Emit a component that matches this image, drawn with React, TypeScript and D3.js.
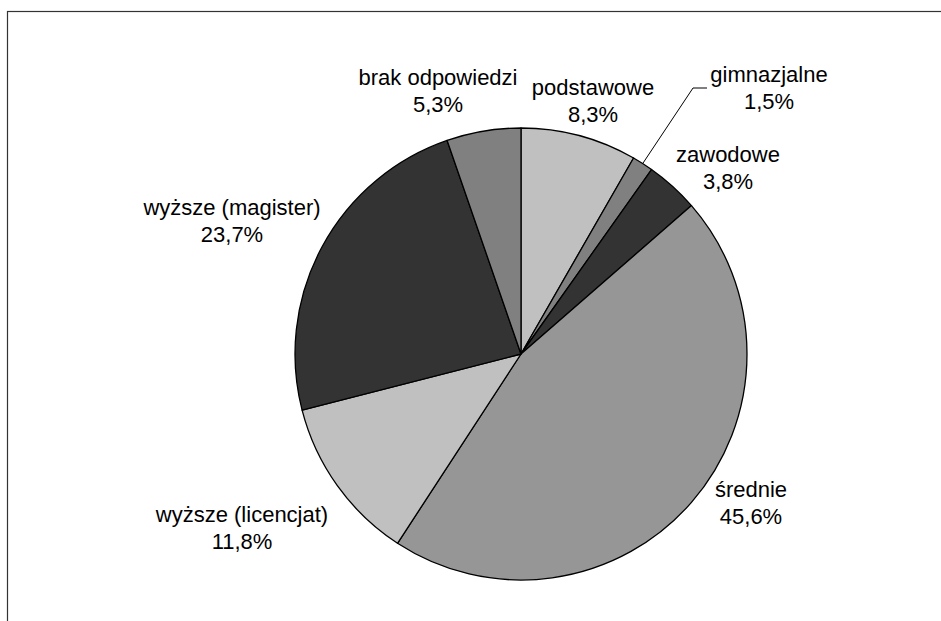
import React, { useEffect, useRef } from 'react';
import * as d3 from 'd3';

const categories = ['podstawowe', 'gimnazjalne', 'zawodowe', 'średnie', 'wyższe (licencjat)', 'wyższe (magister)', 'brak odpowiedzi'];
const values = [8.3, 1.5, 3.8, 45.6, 11.8, 23.7, 5.3];
const valueLabels = ['8,3%', '1,5%', '3,8%', '45,6%', '11,8%', '23,7%', '5,3%'];
const fills = ['#c0c0c0', '#808080', '#333333', '#969696', '#c0c0c0', '#333333', '#808080'];

// label centre x and first-line baseline, placed by hand like in the original
const labelPos: [number, number][] = [
  [593, 95], [769, 82], [728, 162], [751, 497], [242, 522], [232, 215], [438, 85],
];

const App = () => {
  const ref = useRef<SVGSVGElement>(null);
  const width = 941;
  const height = 621;

  useEffect(() => {
    const svg = d3.select(ref.current);
    svg.selectAll('*').remove();

    const cx = 521;
    const cy = 354;
    const r = 226;

    // outer frame (runs off the right and bottom edge)
    svg.append('rect')
      .attr('x', 7.5).attr('y', 11.5)
      .attr('width', 1000).attr('height', 1000)
      .attr('fill', 'none')
      .attr('stroke', '#333')
      .attr('stroke-width', 1.2);

    const data = categories.map((c, i) => ({ name: c, value: values[i], label: valueLabels[i], fill: fills[i] }));

    const pie = d3.pie<any>().value(d => d.value).sort(null);
    const arc = d3.arc<any>().innerRadius(0).outerRadius(r);
    const arcs = pie(data);

    const g = svg.append('g').attr('transform', `translate(${cx}, ${cy})`);

    g.selectAll('.slice')
      .data(arcs)
      .enter().append('path')
      .attr('class', 'slice')
      .attr('d', arc)
      .style('fill', d => d.data.fill)
      .style('stroke', '#000')
      .style('stroke-width', 1.3)
      .style('stroke-linejoin', 'round');

    // leader line for the small slice (gimnazjalne)
    const gim = arcs[1];
    const mid = (gim.startAngle + gim.endAngle) / 2;
    const px = cx + r * Math.sin(mid);
    const py = cy - r * Math.cos(mid);
    svg.append('polyline')
      .attr('points', `${px},${py} 693,88 707,88`)
      .attr('fill', 'none')
      .attr('stroke', '#000')
      .attr('stroke-width', 1);

    const labels = svg.append('g')
      .style('font-family', '"Liberation Sans", Arial, sans-serif')
      .style('font-size', '22px')
      .style('fill', '#000');

    data.forEach((d, i) => {
      const [x, y] = labelPos[i];
      const t = labels.append('text')
        .attr('x', x)
        .attr('y', y)
        .attr('text-anchor', 'middle');
      t.append('tspan').attr('x', x).text(d.name);
      t.append('tspan').attr('x', x).attr('dy', 27).text(d.label);
    });
  }, []);

  return (
    <svg ref={ref} width={width} height={height}
      style={{ position: 'absolute', left: 0, top: 0, background: '#fff' }} />
  );
};

export default App;
